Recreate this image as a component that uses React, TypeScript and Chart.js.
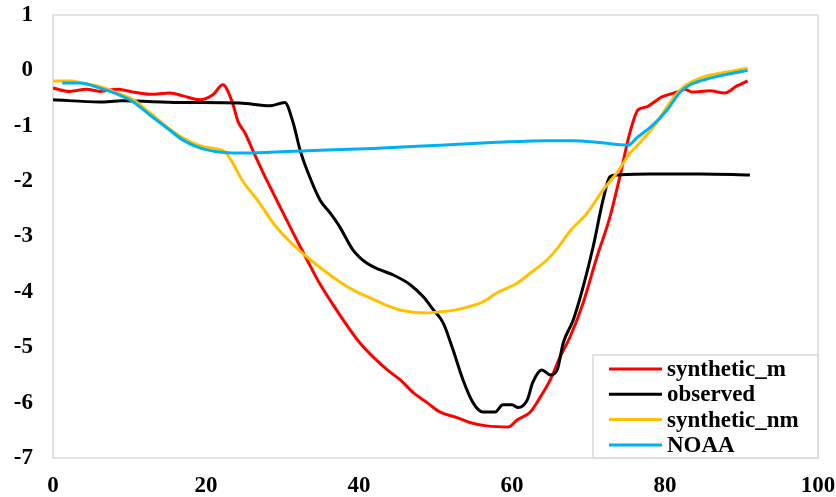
import { useEffect, useRef } from "react";
import { Chart, registerables } from "chart.js";

Chart.register(...registerables);

// Depth profiles along the section (x: distance, y: value)
const syntheticMX = [0, 2.2, 4.4, 6.1, 8.4, 10.1, 12.7, 15.3, 17.0, 19.2, 20.9, 22.2, 23.4, 24.2, 25.1, 26.1, 27.5, 28.8, 30.1, 31.4, 33.2, 34.9, 36.6, 38.4, 40.1, 41.8, 43.7, 45.4, 47.1, 48.9, 50.6, 52.8, 54.5, 56.7, 59.5, 60.7, 62.4, 63.7, 65.0, 66.3, 67.6, 69.3, 71.1, 72.8, 74.1, 75.4, 76.5, 77.6, 78.4, 79.6, 81.6, 82.6, 83.5, 85.9, 87.8, 89.4, 90.8];
const syntheticMY = [-0.32, -0.38, -0.34, -0.38, -0.34, -0.38, -0.43, -0.41, -0.46, -0.53, -0.44, -0.26, -0.56, -0.93, -1.13, -1.44, -1.86, -2.22, -2.58, -2.94, -3.42, -3.86, -4.23, -4.6, -4.92, -5.17, -5.41, -5.59, -5.82, -6.0, -6.17, -6.27, -6.36, -6.42, -6.44, -6.31, -6.17, -5.9, -5.59, -5.17, -4.81, -4.2, -3.37, -2.65, -1.92, -1.13, -0.71, -0.66, -0.59, -0.48, -0.39, -0.34, -0.39, -0.37, -0.41, -0.28, -0.19];

const observedX = [0, 6.1, 9.0, 16.6, 24.4, 28.4, 30.3, 31.4, 32.3, 33.2, 34.9, 36.2, 37.5, 39.2, 41.0, 42.7, 44.4, 46.7, 48.4, 49.7, 51.0, 52.3, 53.6, 54.9, 56.2, 57.8, 58.8, 60.0, 60.8, 62.0, 62.7, 63.9, 65.0, 65.9, 66.7, 68.0, 69.3, 70.6, 71.9, 72.8, 73.7, 78.0, 84.6, 91.1];
const observedY = [-0.53, -0.57, -0.55, -0.58, -0.59, -0.64, -0.58, -0.95, -1.44, -1.8, -2.34, -2.57, -2.83, -3.24, -3.48, -3.6, -3.69, -3.87, -4.09, -4.32, -4.56, -5.05, -5.59, -6.0, -6.17, -6.17, -6.04, -6.04, -6.09, -5.95, -5.64, -5.41, -5.5, -5.41, -4.92, -4.51, -3.91, -3.19, -2.34, -1.92, -1.89, -1.87, -1.87, -1.89];

const syntheticNmX = [0, 2.2, 3.9, 6.1, 8.4, 10.5, 12.7, 14.9, 17.0, 19.2, 21.4, 22.5, 23.5, 24.7, 26.7, 28.8, 31.0, 33.2, 35.3, 37.5, 39.7, 41.8, 44.1, 45.8, 48.9, 50.6, 52.8, 56.2, 58.0, 60.7, 62.4, 64.6, 65.9, 67.6, 69.8, 71.9, 73.7, 75.4, 76.7, 78.9, 80.6, 82.4, 84.6, 86.8, 88.9, 90.8];
const syntheticNmY = [-0.19, -0.19, -0.23, -0.29, -0.41, -0.53, -0.77, -1.02, -1.22, -1.36, -1.42, -1.47, -1.67, -1.98, -2.34, -2.76, -3.1, -3.37, -3.6, -3.82, -4.0, -4.13, -4.27, -4.34, -4.38, -4.36, -4.32, -4.18, -4.02, -3.84, -3.66, -3.42, -3.22, -2.9, -2.58, -2.16, -1.85, -1.5, -1.31, -0.95, -0.59, -0.3, -0.14, -0.06, -0.01, 0.04];

const noaaX = [1.2, 3.5, 6.1, 8.4, 10.5, 12.7, 14.9, 17.0, 19.2, 21.4, 23.5, 25.8, 33.2, 41.8, 50.6, 58.0, 64.6, 68.0, 71.1, 75.2, 76.3, 78.4, 80.3, 82.0, 83.3, 85.9, 88.5, 90.8];
const noaaY = [-0.23, -0.23, -0.32, -0.43, -0.57, -0.81, -1.04, -1.26, -1.4, -1.47, -1.49, -1.49, -1.45, -1.41, -1.35, -1.3, -1.27, -1.27, -1.3, -1.35, -1.22, -0.99, -0.71, -0.39, -0.26, -0.14, -0.06, 0.0];

const xTicks = [0, 20, 40, 60, 80, 100];
const yTicks = [1, 0, -1, -2, -3, -4, -5, -6, -7];

const FONT = "'Liberation Serif', 'Times New Roman', serif";

const toPoints = (xs: number[], ys: number[]) => xs.map((x, i) => ({ x, y: ys[i] }));

// Light grey frame around the plotting area
const framePlugin = {
  id: "frame",
  beforeDatasetsDraw(chart: any) {
    const { ctx, chartArea: a } = chart;
    ctx.save();
    ctx.strokeStyle = "#D9D9D9";
    ctx.lineWidth = 1.5;
    ctx.strokeRect(a.left, a.top, a.right - a.left, a.bottom - a.top);
    ctx.restore();
  },
};

// Boxed legend sitting in the lower-right corner of the plot
const boxLegendPlugin = {
  id: "boxLegend",
  afterDraw(chart: any) {
    const { ctx, chartArea: a } = chart;
    const w = 225;
    const h = 103;
    const x0 = a.right - w;
    const y0 = a.bottom - h;
    ctx.save();
    ctx.fillStyle = "#FFFFFF";
    ctx.fillRect(x0, y0, w, h);
    ctx.strokeStyle = "#D9D9D9";
    ctx.lineWidth = 1.5;
    ctx.strokeRect(x0, y0, w, h);
    ctx.font = `bold 23px ${FONT}`;
    ctx.textBaseline = "middle";
    ctx.textAlign = "left";
    chart.data.datasets.forEach((ds: any, i: number) => {
      const cy = y0 + 14 + i * 25.3;
      ctx.strokeStyle = ds.borderColor;
      ctx.lineWidth = 3;
      ctx.beginPath();
      ctx.moveTo(x0 + 16, cy);
      ctx.lineTo(x0 + 69, cy);
      ctx.stroke();
      ctx.fillStyle = "#000000";
      ctx.fillText(ds.label, x0 + 74, cy + 1);
    });
    ctx.restore();
  },
};

export default function App() {
  const canvasRef = useRef<HTMLCanvasElement | null>(null);

  useEffect(() => {
    document.body.style.margin = "0";
    const canvas = canvasRef.current;
    if (!canvas) return;

    const line = (label: string, color: string, xs: number[], ys: number[], order: number) => ({
      label,
      data: toPoints(xs, ys),
      borderColor: color,
      backgroundColor: color,
      borderWidth: 3,
      pointRadius: 0,
      pointHoverRadius: 0,
      fill: false,
      cubicInterpolationMode: "monotone" as const,
      order,
    });

    const chart = new Chart(canvas, {
      type: "line",
      data: {
        datasets: [
          line("synthetic_m", "#FF0000", syntheticMX, syntheticMY, 3),
          line("observed", "#000000", observedX, observedY, 2),
          line("synthetic_nm", "#FFC000", syntheticNmX, syntheticNmY, 1),
          line("NOAA", "#00B0F0", noaaX, noaaY, 0),
        ],
      },
      options: {
        animation: false,
        responsive: true,
        maintainAspectRatio: false,
        layout: { padding: { top: 15, right: 18, left: 0, bottom: 0 } },
        plugins: {
          legend: { display: false },
          tooltip: { enabled: false },
        },
        scales: {
          x: {
            type: "linear",
            min: 0,
            max: 100,
            grid: { display: false, drawTicks: false },
            border: { display: false },
            afterBuildTicks: (scale: any) => {
              scale.ticks = xTicks.map((v) => ({ value: v }));
            },
            afterFit: (scale: any) => {
              scale.height = 39;
              scale.paddingLeft = 0;
              scale.paddingRight = 0;
            },
            ticks: {
              padding: 14,
              maxRotation: 0,
              autoSkip: false,
              color: "#000000",
              font: { family: FONT, size: 23, weight: "bold" },
              callback: (v: any) => String(v),
            },
          },
          y: {
            type: "linear",
            min: -7,
            max: 1,
            grid: { display: false, drawTicks: false },
            border: { display: false },
            afterBuildTicks: (scale: any) => {
              scale.ticks = yTicks.map((v) => ({ value: v }));
            },
            afterFit: (scale: any) => {
              scale.width = 53;
              scale.paddingTop = 0;
              scale.paddingBottom = 0;
            },
            ticks: {
              padding: 20,
              autoSkip: false,
              color: "#000000",
              font: { family: FONT, size: 23, weight: "bold" },
              callback: (v: any) => String(v),
            },
          },
        },
      },
      plugins: [framePlugin, boxLegendPlugin],
    });

    return () => chart.destroy();
  }, []);

  return (
    <div style={{ position: "relative", width: 836, height: 497 }}>
      <canvas ref={canvasRef} />
    </div>
  );
}
